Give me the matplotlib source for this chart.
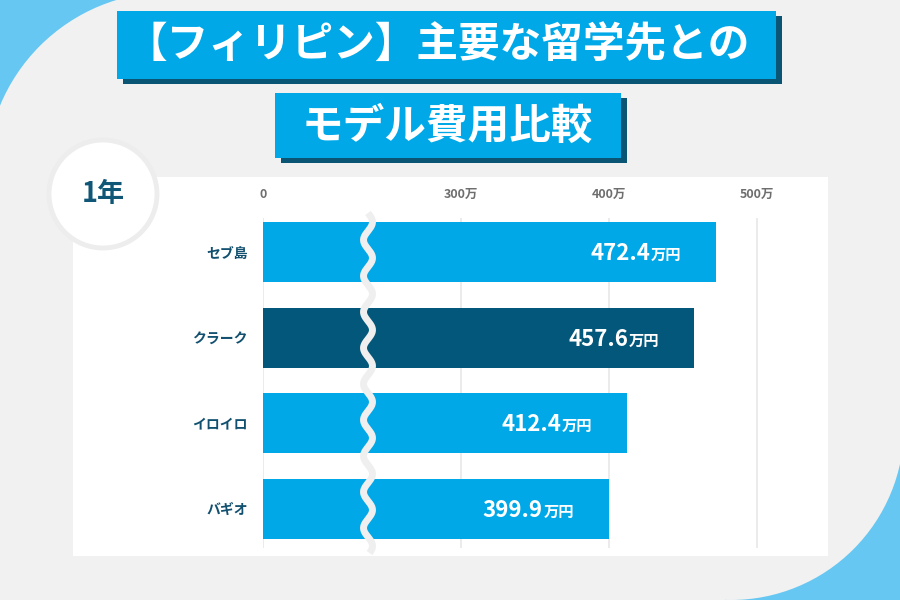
import numpy as np
import matplotlib
matplotlib.use("Agg")
import matplotlib.pyplot as plt
from matplotlib.patches import Rectangle, Circle
from matplotlib.lines import Line2D

plt.rcParams['font.family'] = ['Noto Sans CJK JP', 'DejaVu Sans']

# ---- data ----
title_line1 = "【フィリピン】主要な留学先との"
title_line2 = "モデル費用比較"
period_label = "1年"
categories = ["セブ島", "クラーク", "イロイロ", "バギオ"]
values = [472.4, 457.6, 412.4, 399.9]
highlight = "クラーク"
tick_values = [0, 300, 400, 500]
tick_labels = ["0", "300万", "400万", "500万"]
unit = "万円"

# ---- style ----
BG = '#f1f1f1'
CORNER = '#66c7f2'
BLUE = '#00a8e8'
DARK = '#03577a'
SHADOW = '#0b5574'
TEAL = '#12506f'

fig = plt.figure(figsize=(9, 6), dpi=100)
fig.patch.set_facecolor(BG)
T = fig.dpi_scale_trans


def P(x, y):
    return (x / 100.0, (600 - y) / 100.0)


def rect(x0, y0, x1, y1, color, z):
    r = Rectangle(P(x0, y1), (x1 - x0) / 100.0, (y1 - y0) / 100.0,
                  transform=T, facecolor=color, edgecolor='none', zorder=z)
    fig.add_artist(r)


# corner decorations
rect(0, 0, 175, 180, CORNER, -10)
rect(725, 420, 900, 600, CORNER, -10)
fig.add_artist(Circle(P(170, 176), 1.84, transform=T, fc=BG, ec='none', zorder=-9))
fig.add_artist(Circle(P(731, 427), 1.73, transform=T, fc=BG, ec='none', zorder=-9))

# white panel
rect(73, 177, 828, 556, 'white', -8)

# title boxes
rect(123, 16, 782, 84, SHADOW, -7)
rect(117, 11, 776, 79, BLUE, -6)
rect(281, 98, 627, 163, SHADOW, -7)
rect(275, 93, 621, 158, BLUE, -6)
fig.text(*P(438, 45), title_line1, transform=T, ha='center', va='center',
         fontsize=30, fontweight='bold', color='white', zorder=10)
fig.text(*P(447, 127), title_line2, transform=T, ha='center', va='center',
         fontsize=30, fontweight='bold', color='white', zorder=10)

# period circle
fig.add_artist(Circle(P(103, 194), 0.54, transform=T, fc='white', ec='#ededed',
                      lw=3.5, zorder=8))
fig.text(*P(103, 194), period_label, transform=T, ha='center', va='center',
         fontsize=19.5, fontweight='bold', color='#0f5677', zorder=9)

# ---- axes with broken (compressed) scale ----
K0 = 197.7 / 300.0
K1 = 1.482


def fwd(v):
    v = np.asarray(v, dtype=float)
    return np.where(v < 300, v * K0, 300 * K0 + (v - 300) * K1)


def inv(u):
    u = np.asarray(u, dtype=float)
    return np.where(u < 300 * K0, u / K0, 300 + (u - 300 * K0) / K1)


ax = fig.add_axes([263 / 900, 1 - 548 / 600, 537 / 900, 330 / 600])
ax.patch.set_alpha(0)
ax.set_xscale('function', functions=(fwd, inv))
ax.set_xlim(0, float(inv(537)))
ax.set_ylim(3.46, -0.40)

ypos = np.arange(len(categories))
colors = [DARK if c == highlight else BLUE for c in categories]
ax.barh(ypos, values, height=0.70, color=colors, zorder=2)

ax.set_xticks(tick_values)
ax.set_xticklabels(tick_labels)
ax.xaxis.tick_top()
ax.tick_params(axis='x', length=0, pad=12, labelsize=9, labelcolor='#6e6e6e')
for lab in ax.get_xticklabels():
    lab.set_fontweight('bold')
ax.set_yticks(ypos)
ax.set_yticklabels(categories)
ax.tick_params(axis='y', length=0, pad=11, labelsize=10, labelcolor=TEAL)
for lab in ax.get_yticklabels():
    lab.set_fontweight('bold')
ax.grid(axis='x', color='#e9e9e9', lw=1.3, zorder=1)
ax.grid(axis='y', visible=False)
ax.set_axisbelow(True)
for s in ax.spines.values():
    s.set_visible(False)

for i, v in enumerate(values):
    ax.annotate(unit, xy=(v, i), xytext=(-35, -8), textcoords='offset pixels',
                ha='right', va='baseline', fontsize=11, fontweight='bold',
                color='white', zorder=4)
    ax.annotate(f"{v:.1f}", xy=(v, i), xytext=(-66, -8), textcoords='offset pixels',
                ha='right', va='baseline', fontsize=16, fontweight='bold',
                color='white', zorder=4)

# wavy break mark
yy = np.linspace(213, 553, 400)
xx = 368 + 4.5 * np.sin(2 * np.pi * (yy - 213) / 36.0)
fig.add_artist(Line2D(xx / 100.0, (600 - yy) / 100.0, transform=T,
                      color='#efefef', lw=5, solid_capstyle='butt', zorder=5))

fig.savefig("out.png", dpi=100, facecolor=BG)
